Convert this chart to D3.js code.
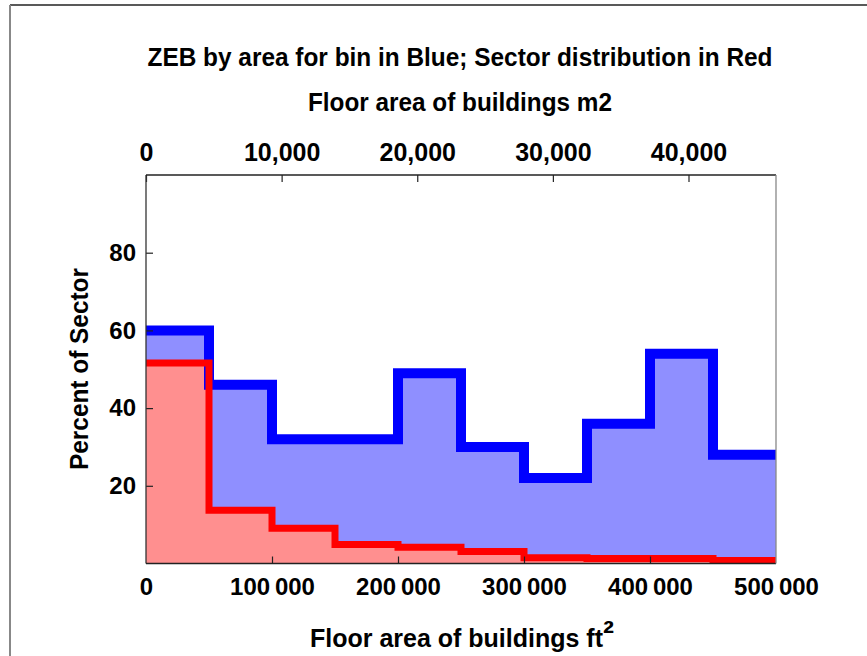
<!DOCTYPE html>
<html>
<head>
<meta charset="utf-8">
<script src="https://cdn.jsdelivr.net/npm/d3@7"></script>
<style>
  html, body { margin: 0; padding: 0; background: #fff; }
  svg text { font-family: "Liberation Sans", Arial, Helvetica, sans-serif; fill: #000; font-weight: bold; }
</style>
</head>
<body>
<svg id="chart" width="867" height="656"></svg>
<script>
// ---- data ----
const binStarts = [0, 50000, 100000, 150000, 200000, 250000, 300000, 350000, 400000, 450000];
const binEnd = 500000;
const zebPct = [60, 46, 32, 32, 49, 30, 22, 36, 54, 28];          // blue: ZEB by area for bin
const sectorPct = [51.6, 13.7, 9.1, 4.9, 4.2, 3.1, 1.5, 1.3, 1.3, 0.8]; // red: sector distribution
const yTicks = [20, 40, 60, 80];
const xTicksFt2 = [0, 100000, 200000, 300000, 400000, 500000];
const xTicksM2 = [0, 10000, 20000, 30000, 40000];
const ft2PerM2 = 10.7639;

const titleText = "ZEB by area for bin in Blue; Sector distribution in Red";
const topAxisTitle = "Floor area of buildings m2";
const bottomAxisTitle = "Floor area of buildings ft";
const bottomAxisSup = "\u00B2";
const yAxisTitle = "Percent of Sector";

// ---- layout ----
const svg = d3.select("#chart");
const L = 146, R = 776, T = 175, B = 563.5;
const x = d3.scaleLinear().domain([0, binEnd]).range([L, R]);
const y = d3.scaleLinear().domain([0, 100]).range([B, T]);

// outer frame lines of the image
svg.append("line").attr("x1", 10).attr("x2", 867).attr("y1", 5).attr("y2", 5)
  .attr("stroke", "#222").attr("stroke-width", 1.5);
svg.append("line").attr("x1", 10).attr("x2", 10).attr("y1", 5).attr("y2", 656)
  .attr("stroke", "#888").attr("stroke-width", 2);

function stepPoints(vals) {
  const pts = binStarts.map((s, i) => [s, vals[i]]);
  pts.push([binEnd, vals[vals.length - 1]]);
  return pts;
}

const defs = svg.append("defs");
defs.append("clipPath").attr("id", "plotClip")
  .append("rect").attr("x", L).attr("y", T).attr("width", R - L).attr("height", B - T);

const area = d3.area().x(d => x(d[0])).y0(y(0)).y1(d => y(d[1])).curve(d3.curveStepAfter);
const line = d3.line().x(d => x(d[0])).y(d => y(d[1])).curve(d3.curveStepAfter);

const plot = svg.append("g").attr("clip-path", "url(#plotClip)");
plot.append("path").datum(stepPoints(zebPct)).attr("d", area).attr("fill", "#8f8fff");
plot.append("path").datum(stepPoints(sectorPct)).attr("d", area).attr("fill", "#ff8f8f");
plot.append("path").datum(stepPoints(zebPct)).attr("d", line)
  .attr("fill", "none").attr("stroke", "#0000ff").attr("stroke-width", 10).attr("stroke-linejoin", "miter");
plot.append("path").datum(stepPoints(sectorPct)).attr("d", line)
  .attr("fill", "none").attr("stroke", "#ff0000").attr("stroke-width", 7).attr("stroke-linejoin", "miter");

// ---- axes ----
const fmtSpace = v => d3.format(",")(v).replace(/,/g, "\u2009");
const fmtComma = d3.format(",");

const gB = svg.append("g").attr("transform", `translate(0,${B})`)
  .call(d3.axisBottom(x).tickValues(xTicksFt2).tickSizeInner(-7).tickSizeOuter(0).tickPadding(14).tickFormat(fmtSpace));
const gT = svg.append("g").attr("transform", `translate(0,${T})`)
  .call(d3.axisTop(x).tickValues(xTicksM2.map(v => v * ft2PerM2)).tickSizeInner(-7).tickSizeOuter(0).tickPadding(14)
    .tickFormat((d, i) => fmtComma(xTicksM2[i])));
const gL = svg.append("g").attr("transform", `translate(${L},0)`)
  .call(d3.axisLeft(y).tickValues(yTicks).tickSizeInner(-7).tickSizeOuter(0).tickPadding(10));

[gB, gT, gL].forEach(g => {
  g.select(".domain").remove();
  g.selectAll(".tick line").attr("stroke", "#222").attr("stroke-width", 1.2);
  g.selectAll(".tick text").attr("font-size", 24).attr("fill", "#000").attr("font-weight", "bold")
    .style("font-family", '"Liberation Sans", Arial, sans-serif');
});
gT.selectAll(".tick text").attr("font-size", 25);
gB.selectAll(".tick").filter(d => d === 0 || d === binEnd).select("line").remove();

// frame
svg.append("line").attr("x1", L).attr("x2", L).attr("y1", T).attr("y2", B).attr("stroke", "#333").attr("stroke-width", 1.3);
svg.append("line").attr("x1", L).attr("x2", R).attr("y1", B).attr("y2", B).attr("stroke", "#222").attr("stroke-width", 1.3);
svg.append("line").attr("x1", L).attr("x2", R).attr("y1", T).attr("y2", T).attr("stroke", "#222").attr("stroke-width", 1.3);
svg.append("line").attr("x1", R).attr("x2", R).attr("y1", T).attr("y2", B).attr("stroke", "#888").attr("stroke-width", 1.3);

// ---- titles ----
function fit(sel, w) {
  const n = sel.node();
  if (n.getComputedTextLength() > w) sel.attr("textLength", w).attr("lengthAdjust", "spacingAndGlyphs");
  return sel;
}
fit(svg.append("text").attr("x", 460).attr("y", 66).attr("text-anchor", "middle")
  .attr("font-size", 25).text(titleText), 625);
fit(svg.append("text").attr("x", 460).attr("y", 111).attr("text-anchor", "middle")
  .attr("font-size", 25).text(topAxisTitle), 304);
const bt = svg.append("text").attr("x", 462).attr("y", 647).attr("text-anchor", "middle")
  .attr("font-size", 25);
bt.append("tspan").text(bottomAxisTitle);
bt.append("tspan").attr("font-size", 33).attr("dy", -2).text(bottomAxisSup);
fit(svg.append("text").attr("transform", "translate(88,369) rotate(-90)").attr("text-anchor", "middle")
  .attr("font-size", 25).text(yAxisTitle), 202);
</script>
</body>
</html>
